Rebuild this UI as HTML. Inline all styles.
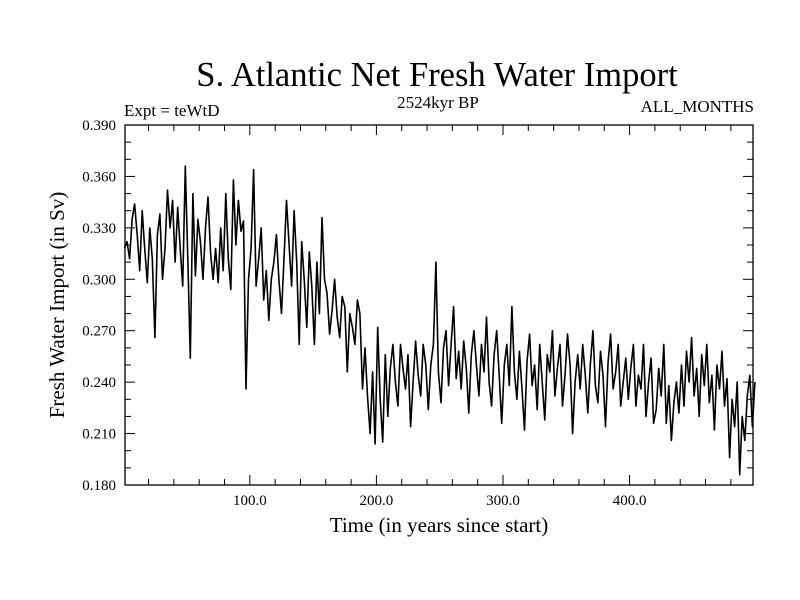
<!DOCTYPE html>
<html><head><meta charset="utf-8"><style>
body{margin:0;background:#fff}
svg{display:block;font-family:"Liberation Serif",serif}
</style></head><body>
<svg id="chart" width="800" height="600" viewBox="0 0 800 600">
<rect x="0" y="0" width="800" height="600" fill="#fff"/>
<text x="437" y="86" font-size="34.5" text-anchor="middle">S. Atlantic Net Fresh Water Import</text>
<text x="124" y="116" font-size="17">Expt = teWtD</text>
<text x="438" y="108" font-size="17" text-anchor="middle">2524kyr BP</text>
<text x="754" y="112" font-size="17" text-anchor="end">ALL_MONTHS</text>
<text x="439" y="532" font-size="21" text-anchor="middle">Time (in years since start)</text>
<text x="64" y="305" font-size="21" text-anchor="middle" transform="rotate(-90 64 305)">Fresh Water Import (in Sv)</text>
<g id="axes"></g>
<path id="series" fill="none" stroke="#000" stroke-width="1.6" stroke-linejoin="round"/>
<rect x="125" y="125" width="628" height="360" fill="none" stroke="#000" stroke-width="1.3"/>
</svg>
<script>
const startYear = 1;
const yearStep = 2;
const values = [
0.318,0.322,0.312,0.335,0.344,0.326,0.305,0.340,0.318,0.298,0.330,0.312,0.266,0.326,0.338,0.300,0.318,0.352,0.330,0.346,
0.310,0.342,0.318,0.296,0.366,0.312,0.254,0.350,0.302,0.335,0.322,0.300,0.330,0.348,0.315,0.300,0.318,0.298,0.330,0.305,
0.350,0.312,0.294,0.358,0.320,0.346,0.328,0.334,0.236,0.300,0.318,0.364,0.296,0.312,0.330,0.288,0.305,0.276,0.300,0.310,
0.326,0.300,0.280,0.312,0.346,0.320,0.296,0.340,0.310,0.262,0.322,0.300,0.272,0.316,0.296,0.262,0.310,0.280,0.336,0.300,
0.292,0.268,0.282,0.300,0.278,0.266,0.290,0.284,0.246,0.280,0.272,0.262,0.288,0.280,0.236,0.260,0.232,0.210,0.246,0.204,
0.272,0.230,0.205,0.256,0.220,0.248,0.262,0.240,0.226,0.262,0.248,0.236,0.256,0.214,0.240,0.264,0.244,0.232,0.262,0.250,
0.224,0.250,0.262,0.310,0.246,0.228,0.260,0.270,0.238,0.262,0.284,0.242,0.258,0.236,0.264,0.248,0.222,0.256,0.270,0.250,
0.232,0.262,0.246,0.278,0.240,0.226,0.256,0.270,0.244,0.216,0.250,0.262,0.238,0.284,0.246,0.230,0.258,0.236,0.212,0.252,
0.268,0.238,0.250,0.224,0.262,0.240,0.218,0.256,0.246,0.270,0.232,0.248,0.262,0.226,0.244,0.268,0.250,0.210,0.240,0.256,
0.236,0.262,0.244,0.222,0.250,0.270,0.238,0.228,0.258,0.244,0.214,0.252,0.268,0.236,0.246,0.262,0.226,0.240,0.254,0.230,
0.248,0.262,0.226,0.244,0.236,0.262,0.220,0.240,0.254,0.216,0.224,0.248,0.232,0.262,0.216,0.238,0.206,0.228,0.240,0.222,
0.250,0.226,0.258,0.240,0.266,0.232,0.248,0.220,0.256,0.238,0.262,0.228,0.244,0.212,0.250,0.236,0.258,0.226,0.242,0.196,
0.230,0.214,0.240,0.186,0.220,0.206,0.232,0.244,0.214,0.240
];
const yTicks = [0.180,0.210,0.240,0.270,0.300,0.330,0.360,0.390];
const xTicks = [100,200,300,400];
const x0=125,x1=753,y0=125,y1=485;
const yrMin=1.4,yrMax=497.5,vMin=0.18,vMax=0.39;
function xs(t){return x0+(t-yrMin)/(yrMax-yrMin)*(x1-x0);}
function ys(v){return y1-(v-vMin)/(vMax-vMin)*(y1-y0);}
const ns="http://www.w3.org/2000/svg";
const axes=document.getElementById('axes');
function line(a,b,c,d){const l=document.createElementNS(ns,'line');l.setAttribute('x1',a);l.setAttribute('y1',b);l.setAttribute('x2',c);l.setAttribute('y2',d);l.setAttribute('stroke','#000');l.setAttribute('stroke-width','1');axes.appendChild(l);return l;}
for(let t=20;t<yrMax;t+=20){const X=xs(t);const major=t%100===0;const L=major?10:6;
 const a=line(X,y1,X,y1-L);
 
 
 const b=line(X,y0,X,y0+L);
 
 }
for(let i=0;i<=21;i++){const v=0.18+i*0.01;const Y=ys(v);const major=i%3===0;const L=major?10:6;
 const a=line(x0,Y,x0+L,Y);
 
 
 const b=line(x1,Y,x1-L,Y);
 
 }
xTicks.forEach(t=>{const tx=document.createElementNS(ns,'text');tx.setAttribute('x',xs(t));tx.setAttribute('y',505);tx.setAttribute('text-anchor','middle');tx.setAttribute('font-size','15');tx.textContent=t.toFixed(1);
 
 
 axes.appendChild(tx);});
yTicks.forEach(v=>{const tx=document.createElementNS(ns,'text');tx.setAttribute('x',116);tx.setAttribute('y',ys(v)+5);tx.setAttribute('text-anchor','end');tx.setAttribute('font-size','15');tx.textContent=v.toFixed(3);
 
 
 axes.appendChild(tx);});
let d='';values.forEach((v,i)=>{const t=startYear+i*yearStep;d+=(i?'L':'M')+xs(t).toFixed(1)+' '+ys(v).toFixed(1);});
document.getElementById('series').setAttribute('d',d);
</script>
</body></html>
